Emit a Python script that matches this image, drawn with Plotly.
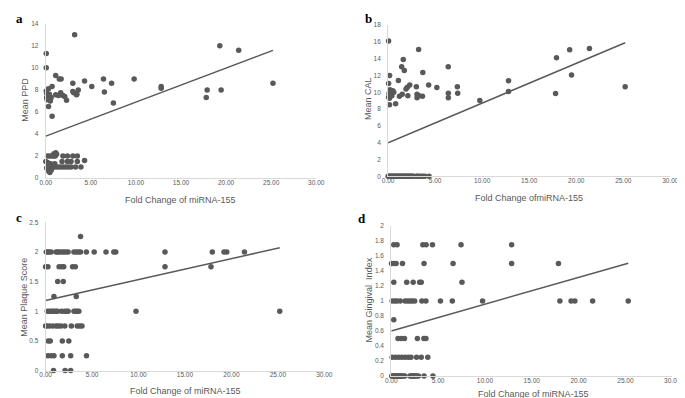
import plotly.graph_objects as go

W, H = 685, 398

# ---------------- data ----------------
# Panel a: Mean PPD
a_x = [3.2, 0.05, 0.05, 1.1, 1.5, 1.7, 3.0, 4.3, 5.1, 6.4, 7.3, 9.8, 6.5, 7.5, 0.7,
       0.05, 0.1, 0.2, 0.3, 0.3, 0.5, 0.6, 0.7, 0.4, 0.15, 0.1,
       1.1, 1.4, 1.65, 1.9, 2.1, 2.3, 3.0, 3.1, 3.4, 3.6, 3.45,
       12.8, 12.8, 17.9, 19.45, 17.8, 19.3, 21.4, 25.2,
       0.2, 0.45, 0.7, 0.9, 1.05, 1.9, 2.4, 3.0, 3.5,
       0.9, 1.1, 1.2,
       0.0, 1.8, 2.4, 2.8, 3.5, 4.3, 0.2,
       0.3, 0.55, 0.8, 1.0,
       0.2, 0.4, 0.6, 0.8, 1.0, 1.3, 1.6, 1.9, 2.2, 2.5, 2.8, 3.3, 3.9,
       0.25, 0.35, 0.45, 0.6, 0.1]
a_y = [13.0, 11.3, 10.0, 9.3, 9.0, 9.0, 8.6, 8.8, 8.3, 9.0, 8.6, 9.0, 7.8, 6.8, 5.6,
       7.9, 7.3, 7.4, 8.1, 6.5, 7.0, 7.3, 8.3, 7.6, 7.1, 7.7,
       7.55, 7.5, 7.75, 7.5, 7.4, 7.05, 7.85, 7.75, 7.55, 8.0, 7.6,
       8.3, 8.15, 8.0, 8.0, 7.3, 12.0, 11.6, 8.6,
       2.0, 2.0, 2.0, 2.0, 2.0, 2.0, 2.0, 2.0, 2.0,
       2.2, 2.3, 2.15,
       1.5, 1.5, 1.5, 1.5, 1.5, 1.6, 1.4,
       1.25, 1.3, 1.2, 1.3,
       1.0, 1.0, 1.0, 1.0, 1.0, 1.0, 1.0, 1.0, 1.0, 1.0, 1.0, 1.0, 1.0,
       0.8, 0.6, 0.5, 0.7, 0.9]

# Panel b: Mean CAL
b_x = [0.05, 3.24, 1.61, 1.44, 1.72, 3.69, 6.39, 0.16, 1.09, 0.05, 4.31, 2.3, 2.05, 1.9, 3.0,
       5.18, 7.36, 6.4, 6.4, 7.4,
       0.2, 0.35, 0.5, 0.1, 0.25, 0.05, 0.15, 0.4, 0.6,
       1.2, 1.5, 2.1, 3.07, 3.3, 3.65, 3.07, 0.15, 0.8, 9.75,
       12.8, 12.8, 17.9, 19.3, 21.4, 19.5, 17.8, 25.2,
       0.0, 0.1, 0.2, 0.3, 0.4, 0.5, 0.6, 0.7, 0.8, 0.9, 1.0, 1.1, 1.2, 1.3, 1.4, 1.5,
       1.6, 1.7, 1.8, 1.9, 2.0, 2.1, 2.2, 2.3, 2.4, 2.5, 2.6, 2.7, 3.0, 3.1, 3.3, 3.5,
       3.7, 3.9, 4.35]
b_y = [16.1, 15.1, 13.9, 13.05, 12.6, 12.35, 13.05, 12.0, 11.4, 11.06, 10.87, 10.87, 10.6, 10.4, 10.67,
       10.57, 10.67, 9.9, 9.35, 9.9,
       10.3, 10.1, 10.2, 9.9, 9.6, 9.4, 9.3, 9.6, 10.0,
       9.54, 9.77, 9.6, 9.77, 9.6, 9.54, 9.35, 8.53, 8.65, 9.03,
       11.37, 10.1, 14.1, 15.07, 15.2, 12.07, 9.85, 10.67,
       0, 0, 0, 0, 0, 0, 0, 0, 0, 0, 0, 0, 0, 0, 0, 0,
       0, 0, 0, 0, 0, 0, 0, 0, 0, 0, 0, 0, 0, 0, 0, 0,
       0, 0, 0]

# Panel c: Mean Plaque Score
c_x = [0.07, 0.25, 0.42, 0.6, 1.13, 1.3, 1.47, 1.73, 1.94, 2.18, 2.42, 3.05, 3.3, 3.52, 3.76,
       4.39, 5.23, 6.5, 7.34, 7.55, 12.85, 17.94, 19.2, 19.5, 21.4,
       3.76,
       0.0, 0.25, 1.45, 1.73, 1.96, 2.9, 3.2, 12.85, 17.8,
       1.3, 1.9,
       0.9, 3.3,
       0.18, 0.42, 0.6, 0.78, 0.95, 1.13, 1.3, 1.73, 2.07, 2.28, 2.42, 3.05, 3.23, 3.41, 3.58,
       9.73, 25.2,
       0.0, 0.15, 0.42, 0.77, 1.13, 1.37, 1.66, 2.07, 2.77, 3.4, 3.68, 3.92,
       0.28, 0.5, 1.8, 2.5,
       0.25, 0.6, 0.9, 1.8, 2.7, 4.4,
       0.85, 2.1, 2.7]
c_y = [2.0] * 25 + [2.26] + [1.75] * 9 + [1.5] * 2 + [1.25] * 2 + [1.0] * 17 + \
      [0.75] * 12 + [0.5] * 4 + [0.25] * 6 + [0.0] * 3

# Panel d: Mean Gingival Index
d_x = [0.27, 0.62, 3.37, 3.72, 4.4, 7.45, 12.85,
       0.03, 0.27, 0.52, 1.2, 3.5, 6.6, 12.85, 17.85,
       0.27, 1.65, 2.34, 3.03, 3.2, 7.55,
       0.1, 0.38, 0.62, 0.96, 1.48, 1.75, 2.0, 2.24, 2.5, 3.27, 3.7, 5.25, 6.52, 9.75,
       18.0, 19.2, 19.6, 21.5, 25.3,
       0.27,
       0.72, 1.07, 1.41, 2.79, 3.48, 3.7,
       0.1, 0.45, 0.8, 1.13, 1.48, 1.82, 2.1, 2.7, 3.2, 3.9,
       0.05, 0.15, 0.25, 0.35, 0.45, 0.55, 0.65, 0.75, 0.85, 0.95, 1.05, 1.15, 1.3, 1.45,
       2.0, 2.1, 2.2, 2.3, 2.4, 2.5, 2.6, 2.75, 2.9, 3.5, 4.45]
d_y = [1.75] * 7 + [1.5] * 8 + [1.25] * 6 + [1.0] * 19 + [0.75] + [0.5] * 6 + \
      [0.25] * 10 + [0.0] * 25

# Linear trend lines (intercept, slope)
trend_a = (3.8, 0.309)
trend_b = (4.0, 0.472)
trend_c = (1.18, 0.0353)
trend_d = (0.6, 0.0357)

x_ticks = [0, 5, 10, 15, 20, 25, 30]

# ---------------- layout helpers ----------------
GRAY = "#595959"
AXIS = "#d9d9d9"
FONT = "Liberation Sans"


def px_x(p):
    return p / W


def px_y(p):
    return 1 - p / H


panels = [
    dict(x=a_x, y=a_y, tr=trend_a, box=(32.5, 309, 12, 169), yr=[0, 14], dt=2,
         ytitle="Mean PPD", xtitle="Fold Change of miRNA-155", letter="a",
         ytpos=(11.5, 89), xtpos=(170, 191), lpos=(6, 7)),
    dict(x=b_x, y=b_y, tr=trend_b, box=(382.5, 671, 13.3, 167.3), yr=[0, 18], dt=2,
         ytitle="Mean CAL", xtitle="Fold Change ofmiRNA-155", letter="b",
         ytpos=(362.5, 88), xtpos=(527, 189), lpos=(362, 7)),
    dict(x=c_x, y=c_y, tr=trend_c, box=(32.3, 317.3, 214, 365), yr=[0, 2.5], dt=0.5,
         ytitle="Mean Plaque Score", xtitle="Fold Change of miRNA-155", letter="c",
         ytpos=(10, 290), xtpos=(175, 386), lpos=(5, 209)),
    dict(x=d_x, y=d_y, tr=trend_d, box=(385.7, 673, 217.7, 370.5), yr=[0, 2], dt=0.2,
         ytitle="Mean Gingival  Index", xtitle="Fold Change of miRNA-155", letter="d",
         ytpos=(362.5, 293), xtpos=(531, 389), lpos=(356, 210)),
]

fig = go.Figure()
annotations = []
layout_axes = {}

for i, p in enumerate(panels, start=1):
    sx = "" if i == 1 else str(i)
    xref, yref = "x" + sx, "y" + sx
    fig.add_trace(go.Scatter(
        x=p["x"], y=p["y"], mode="markers", xaxis=xref, yaxis=yref,
        marker=dict(size=5.5, color=GRAY), cliponaxis=False, showlegend=False,
        hoverinfo="skip"))
    b0, b1 = p["tr"]
    xmax = max(p["x"])
    fig.add_trace(go.Scatter(
        x=[0, xmax], y=[b0, b0 + b1 * xmax], mode="lines", xaxis=xref, yaxis=yref,
        line=dict(color=GRAY, width=1.5), cliponaxis=False, showlegend=False,
        hoverinfo="skip"))

    l, r, t, bt = p["box"]
    layout_axes["xaxis" + sx] = dict(
        domain=[px_x(l), px_x(r)], anchor=yref, range=[0, 30],
        tickvals=x_ticks, tickformat=".2f", showgrid=False, zeroline=False,
        showline=True, linecolor=AXIS, linewidth=1, ticks="",
        ticklabelstandoff=-2,
        tickfont=dict(family=FONT, size=6.5, color=GRAY), fixedrange=True)
    layout_axes["yaxis" + sx] = dict(
        domain=[px_y(bt), px_y(t)], anchor=xref, range=p["yr"], dtick=p["dt"],
        tick0=0, showgrid=False, zeroline=False, showline=True, linecolor=AXIS,
        linewidth=1, ticks="", ticklabelstandoff=5,
        tickfont=dict(family=FONT, size=6.5, color=GRAY), fixedrange=True)

    annotations.append(dict(
        text=p["ytitle"], x=px_x(p["ytpos"][0]), y=px_y(p["ytpos"][1]),
        xref="paper", yref="paper", showarrow=False, textangle=-90,
        font=dict(family=FONT, size=9, color=GRAY), xanchor="center", yanchor="middle"))
    annotations.append(dict(
        text=p["xtitle"], x=px_x(p["xtpos"][0]), y=px_y(p["xtpos"][1]),
        xref="paper", yref="paper", showarrow=False, borderpad=0,
        font=dict(family=FONT, size=9, color=GRAY), xanchor="center", yanchor="middle"))
    annotations.append(dict(
        text="<b>" + p["letter"] + "</b>", x=px_x(p["lpos"][0]), y=px_y(p["lpos"][1]),
        xref="paper", yref="paper", showarrow=False,
        font=dict(family="Liberation Serif", size=13, color="#000000"),
        xanchor="center", yanchor="middle"))

fig.update_layout(
    width=W, height=H, margin=dict(l=0, r=0, t=0, b=0),
    paper_bgcolor="white", plot_bgcolor="white",
    annotations=annotations, **layout_axes)

fig.write_html("out.html", config={"displayModeBar": False})
